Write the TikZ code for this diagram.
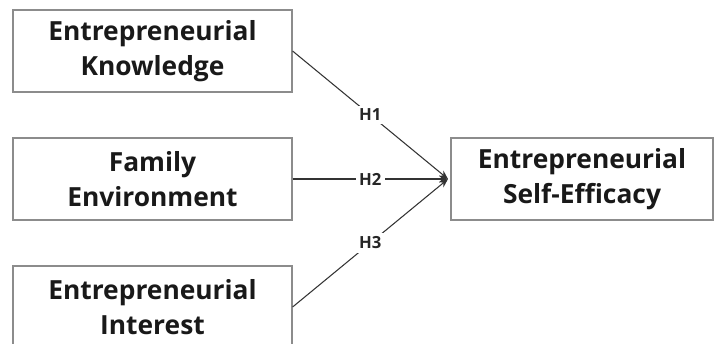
\documentclass[tikz,border=0pt]{standalone}
\usepackage{fontspec}
\setmainfont{Open Sans}
\usetikzlibrary{arrows.meta}

\begin{document}
\begin{tikzpicture}[x=0.02cm, y=-0.02cm,
    construct/.style={rectangle, draw=black!45, line width=0.7pt, fill=white,
        minimum width=5.58cm, minimum height=1.64cm, align=center,
        font=\fontsize{15}{20}\selectfont\bfseries, text=black!90},
    path/.style={draw=black!80, line width=0.6pt, -{Stealth[length=5pt,width=4pt]}},
    hyp/.style={midway, fill=white, inner sep=2pt,
        font=\fontsize{9.5}{11}\selectfont\bfseries, text=black!85}
]
    \useasboundingbox (0,0) rectangle (717,343);
    \clip (0,0) rectangle (717,343);
    \node[construct] (know) at (152.5,51) {Entrepreneurial\\Knowledge};
    \node[construct] (fam) at (152.5,179) {Family\\Environment};
    \node[construct] (int) at (152.5,307) {Entrepreneurial\\Interest};
    \node[construct, minimum width=5.24cm] (ese) at (582,179) {Entrepreneurial\\Self-Efficacy};
    \coordinate (tip) at (448,179);
    \draw[path] (know.east) -- (tip) node[hyp] {H1};
    \draw[path] (fam.east) -- (tip) node[hyp] {H2};
    \draw[path] (int.east) -- (tip) node[hyp] {H3};
\end{tikzpicture}
\end{document}
